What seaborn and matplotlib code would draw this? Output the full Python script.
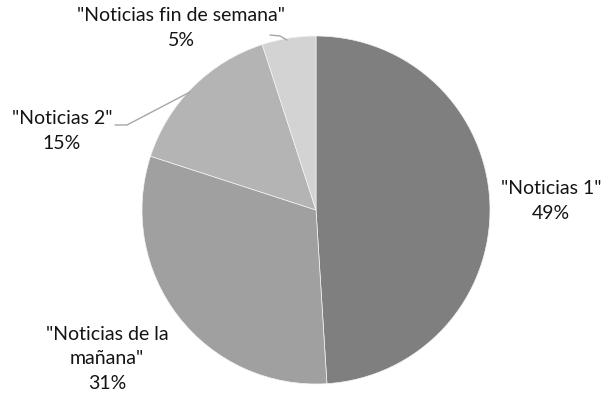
import matplotlib
matplotlib.use("Agg")
import matplotlib.pyplot as plt
import seaborn as sns

labels = ['"Noticias 1"', '"Noticias de la\nmañana"', '"Noticias 2"', '"Noticias fin de semana"']
values = [49, 31, 15, 5]
colors = ["#7f7f7f", "#a0a0a0", "#b4b4b4", "#d3d3d3"]

sns.set_theme(style="white")
plt.rcParams["font.family"] = ["Lato", "DejaVu Sans"]

fig = plt.figure(figsize=(6.02, 3.93), dpi=100)
ax = fig.add_axes([0, 0, 1, 1])

cx, cy, r = 316, 183, 174
wedges, _ = ax.pie(values, colors=colors, startangle=90, counterclock=False,
                   center=(cx, cy), radius=r, frame=True,
                   wedgeprops=dict(linewidth=0.5, edgecolor="#f4f4f4"))
ax.set_xlim(0, 602)
ax.set_ylim(0, 393)
ax.set_aspect("equal")
ax.axis("off")

pct = [f"{v}%" for v in values]
pos = [(551, 192), (107, 34), (62, 262), (181, 365)]
for lab, p, (x, y) in zip(labels, pct, pos):
    ax.text(x, y, f"{lab}\n{p}", ha="center", va="center", fontsize=14,
            color="#141414", linespacing=1.55)

# leader lines
ax.plot([115, 127, 190], [268, 268, 301], color="#a6a6a6", lw=1)
ax.plot([270, 280, 287], [358, 357, 353], color="#a6a6a6", lw=1)

fig.savefig("out.png", dpi=100)
